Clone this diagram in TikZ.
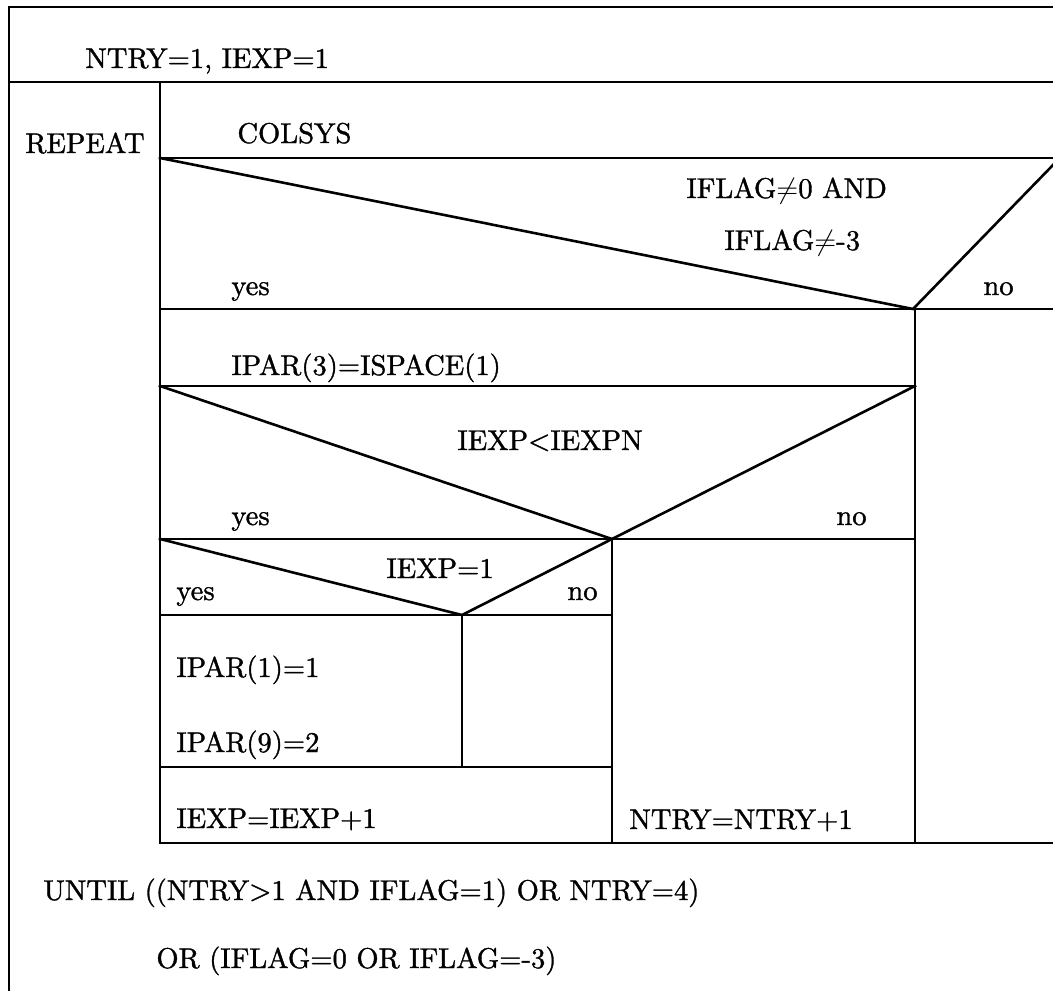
\documentclass[tikz,border=0pt]{standalone}
\usepackage{fontspec}
\newfontfamily\diagfont{lmroman10-regular.otf}[FakeBold=1.2]
\begin{document}
\begin{tikzpicture}[x=0.5pt,y=-0.5pt,
  ln/.style={line width=1.3pt,line cap=rect},
  lbl/.style={anchor=base west,inner sep=0pt,font=\diagfont\fontsize{14.3}{17}\selectfont}]
\useasboundingbox (0,0) rectangle (1053,990);
% corner coordinates
\coordinate (tl) at (9,7);
\coordinate (tr) at (1053,7);
\coordinate (bl) at (9,990);
\coordinate (al) at (9,82);
\coordinate (ar) at (1053,82);
\coordinate (rt) at (160,82);
\coordinate (rb) at (160,843);
\coordinate (c1l) at (160,158);
\coordinate (c1r) at (1053,158);
\coordinate (d1) at (913,309);
\coordinate (d1r) at (1053,165);
\coordinate (y1l) at (160,309);
\coordinate (y1r) at (1053,309);
\coordinate (v1t) at (915,309);
\coordinate (v1b) at (915,843);
\coordinate (p3l) at (160,386);
\coordinate (p3r) at (915,386);
\coordinate (d2) at (612,539);
\coordinate (y2l) at (160,539);
\coordinate (y2r) at (915,539);
\coordinate (v2b) at (612,843);
\coordinate (d3) at (462,615);
\coordinate (y3l) at (160,615);
\coordinate (y3r) at (612,615);
\coordinate (v3b) at (462,767);
\coordinate (e1l) at (160,767);
\coordinate (e1r) at (612,767);
\coordinate (br) at (1053,843);
% frame and blocks
\draw[ln] (bl) -- (tl) -- (tr);
\draw[ln] (al) -- (ar);
\draw[ln] (rt) -- (rb);
\draw[ln] (c1l) -- (c1r);
\draw[ln] (c1l) -- (d1) -- (d1r);
\draw[ln] (y1l) -- (y1r);
\draw[ln] (v1t) -- (v1b);
\draw[ln] (p3l) -- (p3r);
\draw[ln] (p3l) -- (d2) -- (p3r);
\draw[ln] (y2l) -- (y2r);
\draw[ln] (d2) -- (v2b);
\draw[ln] (y2l) -- (d3) -- (d2);
\draw[ln] (y3l) -- (y3r);
\draw[ln] (d3) -- (v3b);
\draw[ln] (e1l) -- (e1r);
\draw[ln] (rb) -- (br);
% texts
\node[lbl] (t1) at (85,68) {NTRY=1, IEXP=1};
\node[lbl] (t2) at (25,153) {REPEAT};
\node[lbl] (t3) at (237,143) {COLSYS};
\node[lbl] (t4) at (686,198) {IFLAG$\neq$0 AND};
\node[lbl] (t5) at (724,250) {IFLAG$\neq$-3};
\node[lbl] (t6) at (231,295) {yes};
\node[lbl] (t7) at (983,295) {no};
\node[lbl] (t8) at (231,375) {IPAR(3)=ISPACE(1)};
\node[lbl] (t9) at (457,450) {IEXP<IEXPN};
\node[lbl] (t10) at (231,525) {yes};
\node[lbl] (t11) at (836,525) {no};
\node[lbl] (t12) at (386,578) {IEXP=1};
\node[lbl] (t13) at (176,600) {yes};
\node[lbl] (t14) at (567,600) {no};
\node[lbl] (t15) at (176,677) {IPAR(1)=1};
\node[lbl] (t16) at (176,752) {IPAR(9)=2};
\node[lbl] (t17) at (176,828) {IEXP=IEXP+1};
\node[lbl] (t18) at (629,829) {NTRY=NTRY+1};
\node[lbl] (t19) at (43,900) {UNTIL ((NTRY>1 AND IFLAG=1) OR NTRY=4)};
\node[lbl] (t20) at (156,968) {OR (IFLAG=0 OR IFLAG=-3)};
\end{tikzpicture}
\end{document}
